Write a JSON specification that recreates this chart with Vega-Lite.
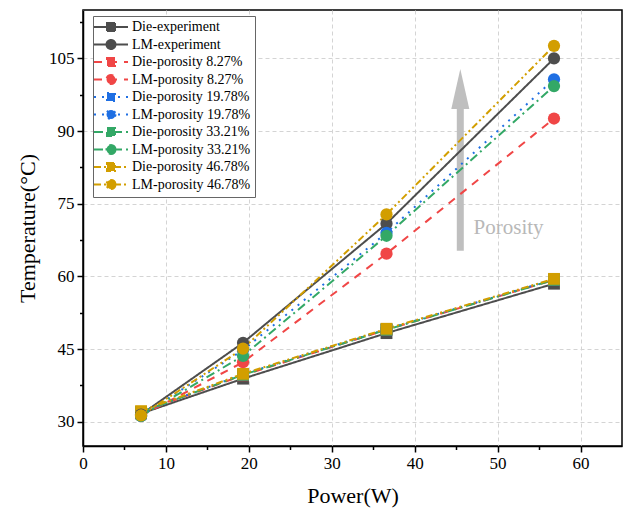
{
  "$schema": "https://vega.github.io/schema/vega-lite/v6.json",
  "width": 539,
  "height": 436,
  "autosize": {"type": "none"},
  "padding": {"left": 83, "top": 10, "right": 2, "bottom": 70},
  "background": "white",
  "config": {
    "view": {"stroke": "black", "strokeWidth": 1.5},
    "font": "Liberation Serif",
    "legend": {"labelFont": "Liberation Serif", "labelFontSize": 14}
  },
  "datasets": {
    "series": [
      {"s": "Die-experiment", "kind": "Die", "p": 7.0, "t": 31.7},
      {"s": "Die-experiment", "kind": "Die", "p": 19.3, "t": 38.9},
      {"s": "Die-experiment", "kind": "Die", "p": 36.6, "t": 48.3},
      {"s": "Die-experiment", "kind": "Die", "p": 56.8, "t": 58.5},
      {"s": "LM-experiment", "kind": "LM", "p": 7.0, "t": 31.5},
      {"s": "LM-experiment", "kind": "LM", "p": 19.3, "t": 46.3},
      {"s": "LM-experiment", "kind": "LM", "p": 36.6, "t": 70.9},
      {"s": "LM-experiment", "kind": "LM", "p": 56.8, "t": 105.0},
      {"s": "Die-porosity 8.27%", "kind": "Die", "p": 7.0, "t": 32.0},
      {"s": "Die-porosity 8.27%", "kind": "Die", "p": 19.3, "t": 39.6},
      {"s": "Die-porosity 8.27%", "kind": "Die", "p": 36.6, "t": 49.0},
      {"s": "Die-porosity 8.27%", "kind": "Die", "p": 56.8, "t": 59.3},
      {"s": "LM-porosity 8.27%", "kind": "LM", "p": 7.0, "t": 31.2},
      {"s": "LM-porosity 8.27%", "kind": "LM", "p": 19.3, "t": 42.3},
      {"s": "LM-porosity 8.27%", "kind": "LM", "p": 36.6, "t": 64.7},
      {"s": "LM-porosity 8.27%", "kind": "LM", "p": 56.8, "t": 92.6},
      {"s": "Die-porosity 19.78%", "kind": "Die", "p": 7.0, "t": 32.0},
      {"s": "Die-porosity 19.78%", "kind": "Die", "p": 19.3, "t": 39.8},
      {"s": "Die-porosity 19.78%", "kind": "Die", "p": 36.6, "t": 49.1},
      {"s": "Die-porosity 19.78%", "kind": "Die", "p": 56.8, "t": 59.4},
      {"s": "LM-porosity 19.78%", "kind": "LM", "p": 7.0, "t": 31.2},
      {"s": "LM-porosity 19.78%", "kind": "LM", "p": 19.3, "t": 44.8},
      {"s": "LM-porosity 19.78%", "kind": "LM", "p": 36.6, "t": 69.0},
      {"s": "LM-porosity 19.78%", "kind": "LM", "p": 56.8, "t": 100.7},
      {"s": "Die-porosity 33.21%", "kind": "Die", "p": 7.0, "t": 32.0},
      {"s": "Die-porosity 33.21%", "kind": "Die", "p": 19.3, "t": 39.7},
      {"s": "Die-porosity 33.21%", "kind": "Die", "p": 36.6, "t": 49.0},
      {"s": "Die-porosity 33.21%", "kind": "Die", "p": 56.8, "t": 59.3},
      {"s": "LM-porosity 33.21%", "kind": "LM", "p": 7.0, "t": 31.2},
      {"s": "LM-porosity 33.21%", "kind": "LM", "p": 19.3, "t": 43.6},
      {"s": "LM-porosity 33.21%", "kind": "LM", "p": 36.6, "t": 68.4},
      {"s": "LM-porosity 33.21%", "kind": "LM", "p": 56.8, "t": 99.3},
      {"s": "Die-porosity 46.78%", "kind": "Die", "p": 7.0, "t": 32.2},
      {"s": "Die-porosity 46.78%", "kind": "Die", "p": 19.3, "t": 39.9},
      {"s": "Die-porosity 46.78%", "kind": "Die", "p": 36.6, "t": 49.2},
      {"s": "Die-porosity 46.78%", "kind": "Die", "p": 56.8, "t": 59.5},
      {"s": "LM-porosity 46.78%", "kind": "LM", "p": 7.0, "t": 31.3},
      {"s": "LM-porosity 46.78%", "kind": "LM", "p": 19.3, "t": 45.1},
      {"s": "LM-porosity 46.78%", "kind": "LM", "p": 36.6, "t": 72.8},
      {"s": "LM-porosity 46.78%", "kind": "LM", "p": 56.8, "t": 107.6}
    ]
  },
  "encoding": {
    "x": {
      "field": "p", "type": "quantitative",
      "scale": {"domain": [0, 65], "nice": false, "zero": false},
      "axis": {
        "title": "Power(W)",
        "values": [0, 5, 10, 15, 20, 25, 30, 35, 40, 45, 50, 55, 60],
        "labelExpr": "datum.value % 10 === 0 ? datum.label : ''",
        "tickSize": {"condition": {"test": "datum.value % 10 === 0", "value": 6}, "value": 3.5},
        "gridOpacity": {"condition": {"test": "datum.value % 10 === 0", "value": 1}, "value": 0},
        "grid": true, "gridColor": "#d4d4d4", "gridDash": [4, 3], "gridWidth": 1,
        "domainColor": "black", "domainWidth": 1.5, "tickColor": "black", "tickWidth": 1.5,
        "labelFont": "Liberation Serif", "labelFontSize": 17, "labelColor": "black", "labelPadding": 3,
        "labelFlush": false,
        "titleFont": "Liberation Serif", "titleFontSize": 22, "titleFontWeight": "normal", "titleColor": "black", "titlePadding": 14
      }
    },
    "y": {
      "field": "t", "type": "quantitative",
      "scale": {"domain": [25, 115], "nice": false, "zero": false},
      "axis": {
        "title": "Temperature(°C)",
        "values": [30, 37.5, 45, 52.5, 60, 67.5, 75, 82.5, 90, 97.5, 105, 112.5],
        "labelExpr": "(datum.value - 30) % 15 === 0 ? datum.label : ''",
        "tickSize": {"condition": {"test": "(datum.value - 30) % 15 === 0", "value": 6}, "value": 3.5},
        "gridOpacity": {"condition": {"test": "(datum.value - 30) % 15 === 0", "value": 1}, "value": 0},
        "grid": true, "gridColor": "#d4d4d4", "gridDash": [4, 3], "gridWidth": 1,
        "domainColor": "black", "domainWidth": 1.5, "tickColor": "black", "tickWidth": 1.5,
        "labelFont": "Liberation Serif", "labelFontSize": 17, "labelColor": "black", "labelPadding": 3,
        "labelFlush": false,
        "titleFont": "Liberation Serif", "titleFontSize": 22, "titleFontWeight": "normal", "titleColor": "black", "titlePadding": 9
      }
    }
  },
  "layer": [
    {
      "data": {"values": [{"p": 45.5, "t": 65.3, "t2": 95.5}]},
      "mark": {"type": "rule", "color": "#bfbfbf", "strokeWidth": 7},
      "encoding": {"y2": {"field": "t2"}}
    },
    {
      "data": {"values": [{"p": 45.5, "t": 98.7}]},
      "mark": {"type": "point", "shape": "M0,-1L0.45,1L-0.45,1Z", "size": 1600, "filled": true, "color": "#bfbfbf", "opacity": 1, "strokeWidth": 0}
    },
    {
      "data": {"values": [{"p": 47.1, "t": 68.8, "label": "Porosity"}]},
      "mark": {"type": "text", "align": "left", "baseline": "alphabetic", "font": "Liberation Serif", "fontSize": 21, "color": "#b8b8b8"},
      "encoding": {"text": {"field": "label"}}
    },
    {
      "data": {"name": "series"},
      "mark": {"type": "line", "strokeWidth": 2},
      "encoding": {
        "color": {
          "field": "s", "type": "nominal",
          "scale": {
            "domain": ["Die-experiment", "LM-experiment", "Die-porosity 8.27%", "LM-porosity 8.27%", "Die-porosity 19.78%", "LM-porosity 19.78%", "Die-porosity 33.21%", "LM-porosity 33.21%", "Die-porosity 46.78%", "LM-porosity 46.78%"],
            "range": ["#4d4d4d", "#4d4d4d", "#f04646", "#f04646", "#1f6fe3", "#1f6fe3", "#33a866", "#33a866", "#d29e00", "#d29e00"]
          },
          "legend": {
            "orient": "none", "legendX": 10, "legendY": 6,
            "title": null,
            "labelFont": "Liberation Serif", "labelFontSize": 14, "labelColor": "black", "labelLimit": 300,
            "strokeColor": "#666666", "fillColor": "white", "padding": 4,
            "symbolSize": 100, "symbolOffset": 7, "labelOffset": 14, "rowPadding": 0.5,
            "symbolStrokeWidth": 2,
            "encode": {
              "symbols": {
                "update": {
                  "shape": {"signal": "indexof(datum.value, 'Die') === 0 ? 'M-3.4,0H3.4M-0.8,-0.8H0.8V0.8H-0.8Z' : 'M-3.4,0H3.4M0.9,0A0.9,0.9,0,1,1,-0.9,0A0.9,0.9,0,1,1,0.9,0Z'"},
                  "fill": {"scale": "color", "field": "value"},
                  "opacity": {"value": 1}
                }
              },
              "labels": {
                "update": {
                  "font": {"value": "Liberation Serif"},
                  "fontSize": {"value": 14}
                }
              }
            }
          }
        },
        "strokeDash": {
          "field": "s", "type": "nominal",
          "scale": {
            "domain": ["Die-experiment", "LM-experiment", "Die-porosity 8.27%", "LM-porosity 8.27%", "Die-porosity 19.78%", "LM-porosity 19.78%", "Die-porosity 33.21%", "LM-porosity 33.21%", "Die-porosity 46.78%", "LM-porosity 46.78%"],
            "range": [[1, 0], [1, 0], [8, 7], [8, 7], [2, 6], [2, 6], [9, 4, 2, 4], [9, 4, 2, 4], [7, 3, 2, 3, 2, 3], [7, 3, 2, 3, 2, 3]]
          },
          "legend": null
        },
        "detail": {"field": "s"}
      }
    },
    {
      "data": {"name": "series"},
      "transform": [{"filter": "datum.kind === 'Die'"}],
      "mark": {"type": "point", "shape": "square", "filled": true, "size": 140, "opacity": 1},
      "encoding": {
        "color": {"field": "s", "type": "nominal", "legend": null}
      }
    },
    {
      "data": {"name": "series"},
      "transform": [{"filter": "datum.kind === 'LM'"}],
      "mark": {"type": "point", "shape": "circle", "filled": true, "size": 150, "opacity": 1},
      "encoding": {
        "color": {"field": "s", "type": "nominal", "legend": null}
      }
    }
  ]
}
